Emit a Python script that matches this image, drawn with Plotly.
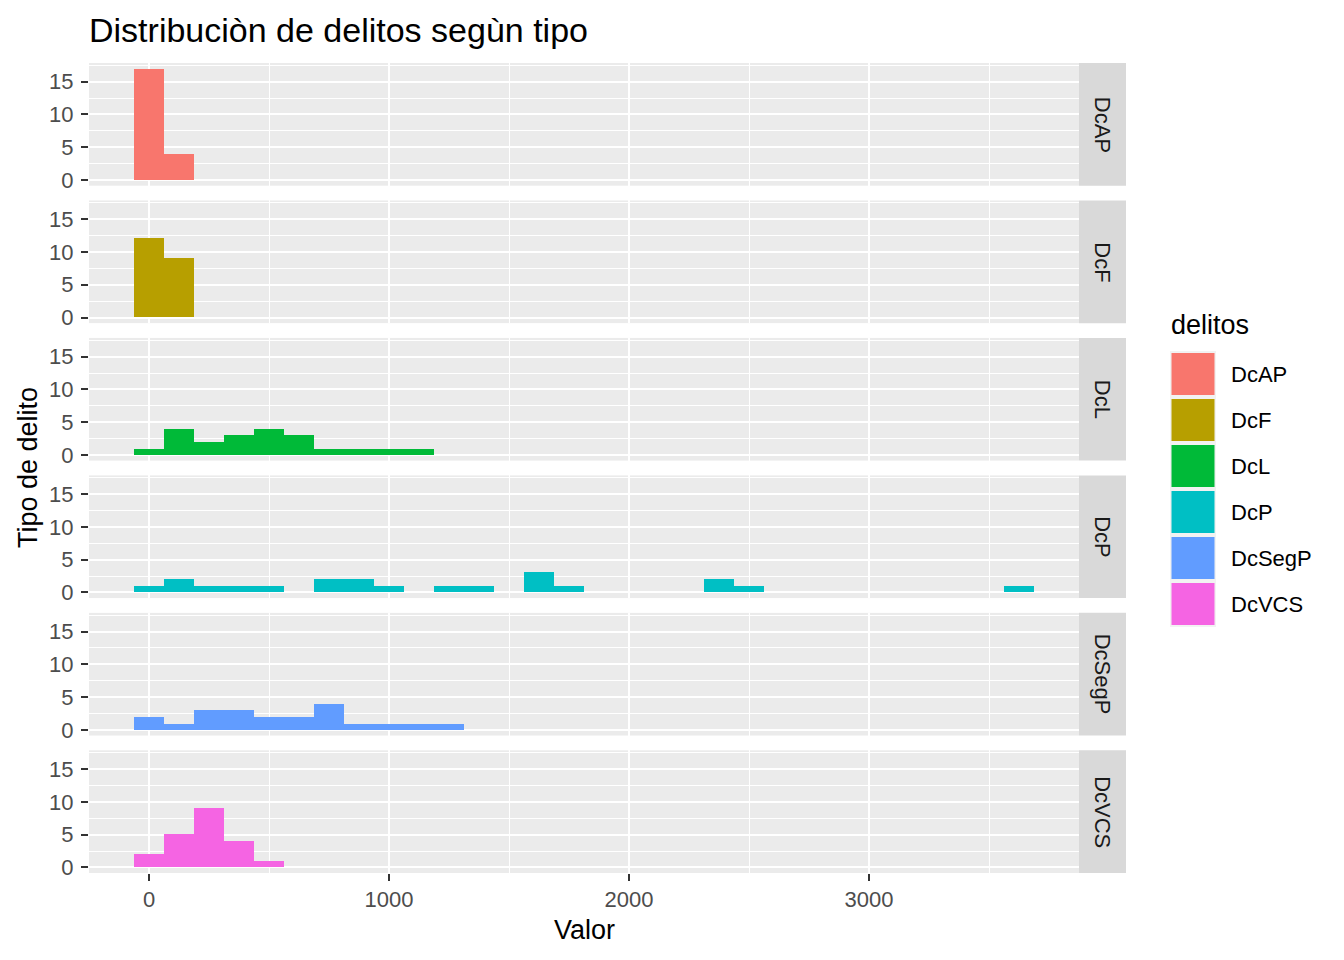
import plotly.graph_objects as go
from plotly.subplots import make_subplots

# ---------------- data ----------------
categories = ["DcAP", "DcF", "DcL", "DcP", "DcSegP", "DcVCS"]
colors = ["#F8766D", "#B79F00", "#00BA38", "#00BFC4", "#619CFF", "#F564E3"]

# histogram bin centres (binwidth 125)
bin_centers = [0, 125, 250, 375, 500, 625, 750, 875, 1000, 1125, 1250, 1375,
               1500, 1625, 1750, 1875, 2000, 2125, 2250, 2375, 2500, 2625,
               2750, 2875, 3000, 3125, 3250, 3375, 3500, 3625]
bin_width = 125

counts_DcAP = [17, 4]
counts_DcF = [12, 9]
counts_DcL = [1, 4, 2, 3, 4, 3, 1, 1, 1, 1]
counts_DcP = [1, 2, 1, 1, 1, 0, 2, 2, 1, 0, 1, 1, 0, 3, 1, 0, 0, 0, 0, 2,
              1, 0, 0, 0, 0, 0, 0, 0, 0, 1]
counts_DcSegP = [2, 1, 3, 3, 2, 2, 4, 1, 1, 1, 1]
counts_DcVCS = [2, 5, 9, 4, 1]
all_counts = [counts_DcAP, counts_DcF, counts_DcL, counts_DcP, counts_DcSegP, counts_DcVCS]

x_ticks = [0, 1000, 2000, 3000]
y_ticks = [0, 5, 10, 15]

title_text = "Distribuciòn de delitos segùn tipo"
x_title = "Valor"
y_title = "Tipo de delito"
legend_title = "delitos"

# ---------------- layout geometry ----------------
OFF = 8  # page body margin
W, H = 1344 - OFF, 960 - OFF
L, R, T, B = 89, 1079, 63, 873          # in window pixels
PW, PH = R - L, B - T
FONT = "Liberation Sans, Arial, sans-serif"

def px_x(px):
    return (px - L) / PW

def px_y(py):
    return (B - py) / PH

n = len(categories)
gap_px = 14.8
vs = gap_px / PH

fig = make_subplots(rows=n, cols=1, shared_xaxes=True, vertical_spacing=vs)

for i, (cat, col, cnt) in enumerate(zip(categories, colors, all_counts)):
    fig.add_trace(
        go.Bar(x=bin_centers[:len(cnt)], y=cnt, width=bin_width,
               marker=dict(color=col, line=dict(width=0)),
               name=cat, showlegend=False),
        row=i + 1, col=1)

for i in range(n):
    last = i == n - 1
    fig.update_yaxes(
        range=[-0.85, 17.85], tickvals=y_ticks, ticks="outside", ticklen=7,
        tickwidth=2, tickcolor="#333333", showgrid=True, gridcolor="white",
        gridwidth=2, zeroline=False, showline=False, ticklabelstandoff=3,
        tickfont=dict(size=22, color="#4D4D4D", family=FONT),
        minor=dict(dtick=2.5, tick0=0, showgrid=True, gridcolor="white", gridwidth=1, ticks=""),
        row=i + 1, col=1)
    fig.update_xaxes(
        range=[-250, 3875], tickvals=x_ticks, showgrid=True, gridcolor="white",
        gridwidth=2, zeroline=False, showline=False,
        ticks="outside" if last else "", ticklen=7, tickwidth=2, tickcolor="#333333",
        showticklabels=last,
        tickfont=dict(size=22, color="#4D4D4D", family=FONT),
        minor=dict(dtick=500, tick0=0, showgrid=True, gridcolor="white", gridwidth=1, ticks=""),
        row=i + 1, col=1)

shapes = []
annotations = []

# strips on the right
for i, cat in enumerate(categories):
    yaxis = fig.layout["yaxis" if i == 0 else f"yaxis{i+1}"]
    d0, d1 = yaxis.domain
    shapes.append(dict(type="rect", xref="paper", yref="paper",
                       x0=1.0, x1=px_x(1126), y0=d0, y1=d1,
                       fillcolor="#D9D9D9", line=dict(width=0), layer="below"))
    annotations.append(dict(text=cat, xref="paper", yref="paper",
                            x=(1.0 + px_x(1126)) / 2, y=(d0 + d1) / 2,
                            textangle=90, showarrow=False,
                            font=dict(size=22, color="#1A1A1A", family=FONT),
                            xanchor="center", yanchor="middle"))

# legend (drawn manually for ggplot-like keys)
shapes.append(dict(type="rect", xref="paper", yref="paper",
                   x0=px_x(1170), x1=px_x(1216), y0=px_y(627), y1=px_y(351),
                   fillcolor="#F2F2F2", line=dict(width=0)))
annotations.append(dict(text=legend_title, xref="paper", yref="paper",
                        x=px_x(1169), y=px_y(325), xanchor="left", yanchor="middle",
                        showarrow=False, font=dict(size=27, color="black", family=FONT)))
for i, (cat, col) in enumerate(zip(categories, colors)):
    top = 353 + 46 * i
    shapes.append(dict(type="rect", xref="paper", yref="paper",
                       x0=px_x(1171.5), x1=px_x(1214.5), y0=px_y(top + 42), y1=px_y(top),
                       fillcolor=col, line=dict(width=0)))
    annotations.append(dict(text=cat, xref="paper", yref="paper",
                            x=px_x(1229), y=px_y(top + 21.5), xanchor="left", yanchor="middle",
                            showarrow=False, font=dict(size=22, color="black", family=FONT)))

# axis titles
annotations.append(dict(text=x_title, xref="paper", yref="paper", x=0.5, y=px_y(930),
                        xanchor="center", yanchor="middle", showarrow=False,
                        font=dict(size=27, color="black", family=FONT)))
annotations.append(dict(text=y_title, xref="paper", yref="paper", x=px_x(28), y=0.5,
                        xanchor="center", yanchor="middle", textangle=-90, showarrow=False,
                        font=dict(size=27, color="black", family=FONT)))

fig.update_layout(
    width=W, height=H, autosize=False,
    margin=dict(l=L - OFF, r=1344 - R, t=T - OFF, b=960 - B),
    paper_bgcolor="white", plot_bgcolor="#EBEBEB",
    bargap=0, showlegend=False,
    font=dict(family=FONT),
    title=dict(text=title_text, x=px_x(89), xref="paper", xanchor="left",
               y=1 - (30 - OFF) / H, yref="container", yanchor="middle",
               font=dict(size=34, color="black", family=FONT)),
    shapes=shapes, annotations=annotations,
)

fig.write_html("out.html")
